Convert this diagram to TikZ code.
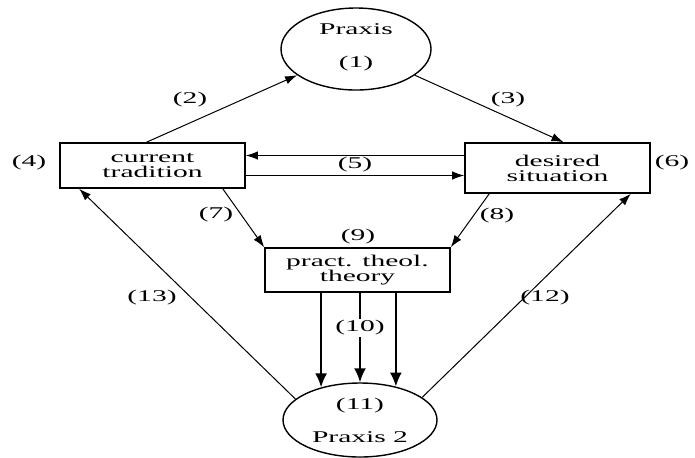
\documentclass[tikz,border=0pt]{standalone}
\usepackage{fontspec}
\setmainfont{Liberation Serif}[FakeStretch=1.8]
\usepackage{tikz}
\usetikzlibrary{arrows.meta,positioning,shapes.geometric,calc}
\setlength{\lineskiplimit}{-5pt}

\begin{document}
\begin{tikzpicture}[
        x=0.5pt, y=-0.5pt,
        font=\fontsize{8.2}{7.5}\selectfont,
        >={Latex[length=6pt,width=4.2pt]},
        box/.style={rectangle, draw, line width=0.8pt, minimum width=92.5pt, minimum height=22.5pt, inner sep=0pt, align=center},
        oval/.style={ellipse, draw, line width=0.7pt, inner sep=0pt, align=center},
        arrow/.style={->, line width=0.5pt},
        fatarrow/.style={-{Latex[length=7pt,width=6pt]}, line width=1pt},
        num/.style={inner sep=1pt}
    ]
        \useasboundingbox (0,0) rectangle (695,457);

        % Nodes
        \node[oval, minimum width=75pt, minimum height=41pt] (praxis) at (356,49) {\rule{0pt}{6pt}Praxis\\[9pt](1)\rule[-4pt]{0pt}{4pt}};
        \node[box] (trad) at (152.5,165.5) {current\\tradition};
        \node[box, minimum height=25pt] (desired) at (557.5,168) {desired\\situation};
        \node[box, minimum height=22pt] (theory) at (357.5,270) {pract. theol.\\theory};
        \node[oval, minimum width=77pt, minimum height=37pt] (praxisii) at (360,420) {(11)\\[9pt]Praxis 2};

        % Arrows
        \draw[arrow] ([xshift=-3pt]trad.north) -- (praxis.204);
        \draw[arrow] (praxis.-24) -- ([xshift=3pt]desired.north);
        \draw[arrow] ([yshift=5pt]trad.east -| desired.west) -- ([yshift=5pt]trad.east);
        \draw[arrow] ([yshift=-5pt]trad.east) -- ([yshift=-5pt]trad.east -| desired.west);
        \draw[arrow] ([xshift=-11.5pt]trad.south east) -- (theory.north west);
        \draw[arrow] ([xshift=12.5pt]desired.south west) -- (theory.north east);
        \draw[fatarrow] (theory.south -| praxisii.140) -- (praxisii.140);
        \draw[fatarrow] (theory.south -| praxisii.north) -- (praxisii.north);
        \draw[fatarrow] (theory.south -| praxisii.43) -- (praxisii.43);
        \draw[arrow] (praxisii.20) -- ([xshift=-10pt]desired.south east);
        \draw[arrow] (praxisii.162) -- ([xshift=10pt]trad.south west);

        % Labels
        \node[num] (l2) at (190,100) {(2)};
        \node[num] (l3) at (508,100) {(3)};
        \node[num] (l4) at (29,163) {(4)};
        \node[num] (l5) at (355,165) {(5)};
        \node[num] (l6) at (672,163) {(6)};
        \node[num] (l7) at (216,215) {(7)};
        \node[num] (l8) at (497,216) {(8)};
        \node[num] (l9) at (358,237) {(9)};
        \node[num, fill=white] (l10) at (360,328) {(10)};
        \node[num] (l12) at (545,298) {(12)};
        \node[num] (l13) at (152,298) {(13)};

    \end{tikzpicture}
\end{document}
